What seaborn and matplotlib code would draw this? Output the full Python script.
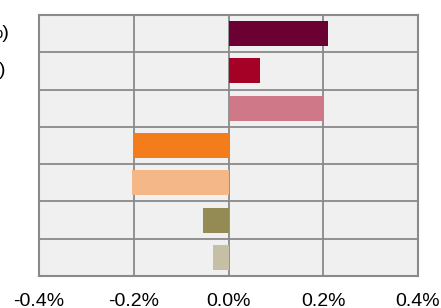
import matplotlib
matplotlib.use("Agg")
import matplotlib.pyplot as plt
import seaborn as sns
import pandas as pd
import numpy as np
from matplotlib.ticker import FixedLocator, FuncFormatter

categories = ["A", "B", "C", "D", "E", "F", "G"]
values = [0.21, 0.067, 0.202, -0.202, -0.204, -0.053, -0.032]
colors = ["#6B0033", "#A50026", "#CF7887", "#F47D1B", "#F4B888", "#948B54", "#C4BFA5"]
label_tails = ["%)", ")", "", "", "", "", ""]
xticks = [-0.4, -0.2, 0.0, 0.2, 0.4]

df = pd.DataFrame({"cat": categories, "val": values})

sns.set_theme(style="white")
plt.rcParams["font.family"] = ["Liberation Sans", "DejaVu Sans"]

fig = plt.figure(figsize=(4.41, 3.08), dpi=100)
ax = fig.add_axes([39 / 441, 1 - 276 / 308, (418 - 39) / 441, (276 - 15) / 308])
ax.set_facecolor("#F0F0F0")

sns.barplot(data=df, y="cat", x="val", hue="cat", palette=colors, orient="h",
            width=0.67, legend=False, ax=ax, zorder=3, saturation=1, linewidth=0)

ax.set_xlim(-0.4, 0.4)
ax.set_ylim(6.5, -0.5)
ax.set_xticks(xticks)
ax.xaxis.set_major_formatter(FuncFormatter(lambda v, p: f"{v:.1f}%"))
ax.tick_params(axis="x", labelsize=14, length=0, pad=12, colors="black")
ax.set_yticks([])
ax.yaxis.set_minor_locator(FixedLocator(np.arange(0.5, 6.5, 1.0)))
ax.grid(True, which="major", axis="x", color="#8A8A8A", linewidth=1.3, zorder=1)
ax.grid(True, which="minor", axis="y", color="#8A8A8A", linewidth=1.3, zorder=1)
ax.tick_params(axis="y", which="both", length=0)
ax.set_axisbelow(True)
ax.set_xlabel("")
ax.set_ylabel("")
for s in ax.spines.values():
    s.set_color("#8A8A8A")
    s.set_linewidth(1.5)

ends = [9, 5]
for i, t in enumerate(label_tails):
    if t:
        xe = (ends[i] - 39) / 379
        ax.text(xe, i, t, transform=ax.get_yaxis_transform(), ha="right", va="center",
                fontsize=14, color="black", clip_on=False)

fig.savefig("out.png", dpi=100)
